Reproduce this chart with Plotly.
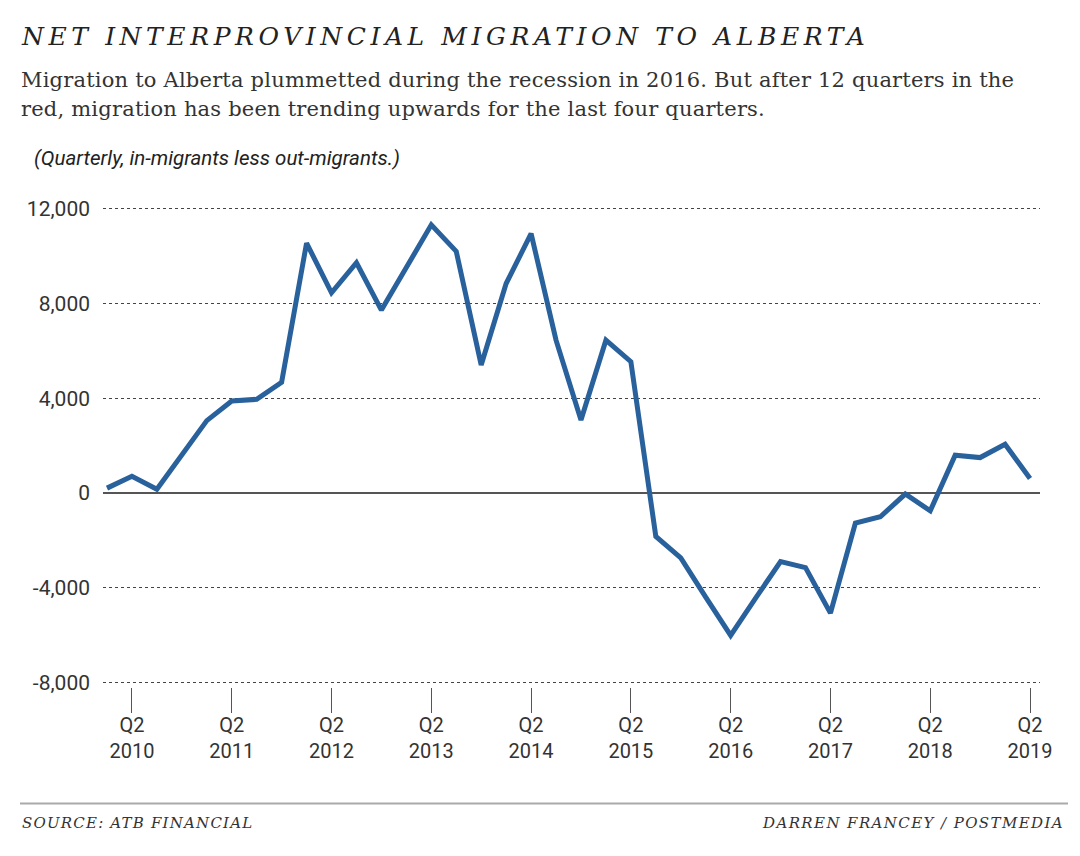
import plotly.graph_objects as go

# quarterly net interprovincial migration, Q1 2010 .. Q2 2019
years = [2010, 2011, 2012, 2013, 2014, 2015, 2016, 2017, 2018, 2019]
quarters = [f"Q{q} {y}" for y in years for q in (1, 2, 3, 4)][:38]
net_migration = [200, 700, 150, 1600, 3050, 3880, 3950, 4670, 10550, 8450,
                 9720, 7720, 9500, 11320, 10200, 5400, 8840, 10950, 6450, 3080,
                 6450, 5540, -1840, -2750, -4400, -6020, -4450, -2900, -3160, -5080,
                 -1280, -1010, -50, -760, 1590, 1490, 2050, 610]

tick_quarters = [f"Q2 {y}" for y in years]
tick_labels = [f"Q2<br>{y}" for y in years]
y_ticks = [-8000, -4000, 0, 4000, 8000, 12000]
y_labels = ["-8,000", "-4,000", "0", "4,000", "8,000", "12,000"]

title = "NET INTERPROVINCIAL MIGRATION TO ALBERTA"
subtitle_1 = "Migration to Alberta plummetted during the recession in 2016. But after 12 quarters in the"
subtitle_2 = "red, migration has been trending upwards for the last four quarters."
unit_note = "(Quarterly, in-migrants less out-migrants.)"
source = "SOURCE: ATB FINANCIAL"
credit = "DARREN FRANCEY / POSTMEDIA"

SERIF = "DejaVu Serif"
SANS = "Roboto, sans-serif"

# the page puts the figure 8px in from the window corner
OFF = 8
W, H = 1080 - 2 * OFF, 856 - 2 * OFF
Y_RANGE = [-8200, 12200]
# window pixels of the -8000 and 12000 gridlines
Y_BOT_PX, Y_TOP_PX = 682, 209
ppu = (Y_BOT_PX - Y_TOP_PX) / 20000
plot_top = Y_TOP_PX - (Y_RANGE[1] - 12000) * ppu - OFF
plot_bot = Y_BOT_PX + (-8000 - Y_RANGE[0]) * ppu - OFF
L, R = 103 - OFF, W - (1040 - OFF)
T, B = plot_top, H - plot_bot

fig = go.Figure()
fig.add_trace(go.Scatter(
    x=quarters, y=net_migration, mode="lines",
    line=dict(color="#29619c", width=5),
    hoverinfo="x+y", showlegend=False,
))

fig.update_xaxes(
    type="category", categoryorder="array", categoryarray=quarters,
    range=[-0.16, 37.4],
    tickmode="array", tickvals=tick_quarters, ticktext=tick_labels,
    ticks="outside", ticklen=25, tickwidth=1, tickcolor="#555",
    showgrid=False, showline=False, zeroline=False,
    ticklabelstandoff=-5,
    tickfont=dict(family=SANS, size=20, color="#333"),
)
fig.update_yaxes(
    range=Y_RANGE,
    tickmode="array", tickvals=y_ticks, ticktext=y_labels,
    showgrid=True, gridcolor="#444", griddash="dot", gridwidth=1,
    zeroline=True, zerolinecolor="#555", zerolinewidth=1.5,
    showline=False, ticks="", ticklabelstandoff=12,
    tickfont=dict(family=SANS, size=21, color="#333"),
)


def px_x(px):
    return (px - OFF - L) / (W - L - R)


def px_y(py):
    return (H - B - (py - OFF)) / (H - T - B)


annotations = [
    dict(text=f"<span style='letter-spacing:4.6px'><i>{title}</i></span>",
         x=px_x(19), y=px_y(37), xanchor="left", yanchor="middle",
         font=dict(family=SERIF, size=25, color="#222")),
    dict(text=f"<span style='letter-spacing:0.2px'>{subtitle_1}</span>",
         x=px_x(19), y=px_y(80), xanchor="left", yanchor="middle",
         font=dict(family=SERIF, size=21, color="#333")),
    dict(text=f"<span style='letter-spacing:0.2px'>{subtitle_2}</span>",
         x=px_x(19), y=px_y(109), xanchor="left", yanchor="middle",
         font=dict(family=SERIF, size=21, color="#333")),
    dict(text=f"<i>{unit_note}</i>", x=px_x(32), y=px_y(158), xanchor="left", yanchor="middle",
         font=dict(family=SANS, size=20.5, color="#222")),
    dict(text=f"<span style='letter-spacing:1.2px'><i>{source}</i></span>",
         x=px_x(20), y=px_y(823), xanchor="left", yanchor="middle",
         font=dict(family=SERIF, size=15, color="#333")),
    dict(text=f"<span style='letter-spacing:1.4px'><i>{credit}</i></span>",
         x=px_x(1066), y=px_y(823), xanchor="right", yanchor="middle",
         font=dict(family=SERIF, size=15, color="#333")),
]
for a in annotations:
    a.update(xref="paper", yref="paper", showarrow=False)

fig.update_layout(
    width=W, height=H,
    margin=dict(l=L, r=R, t=T, b=B, pad=0),
    paper_bgcolor="white", plot_bgcolor="white",
    annotations=annotations,
    shapes=[dict(type="line", xref="paper", yref="paper",
                 x0=px_x(20), x1=px_x(1068), y0=px_y(803), y1=px_y(803),
                 line=dict(color="#aaa", width=2))],
)

fig.write_html("out.html")
